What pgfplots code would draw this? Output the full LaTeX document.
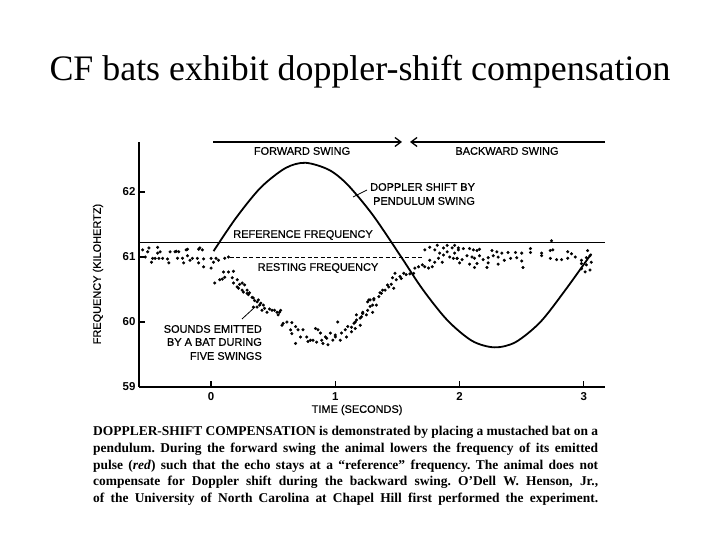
\documentclass[border=0pt]{standalone}
\usepackage{pgfplots}
\pgfplotsset{compat=1.18}
\usepackage{fontspec}
\setmainfont{Liberation Serif}
\setsansfont{Liberation Sans}
\newfontfamily\labfont[FakeBold=0.6]{Liberation Sans}
\usetikzlibrary{arrows.meta}

\newcommand{\lab}{\labfont\fontsize{11}{13}\selectfont}

\begin{document}
\frenchspacing
\begin{tikzpicture}
\useasboundingbox (0,0) rectangle (720bp,540bp);

% title
\node[anchor=base, inner sep=0] at (360bp,459bp)
  {\fontsize{36}{40}\selectfont CF bats exhibit doppler-shift compensation};

\begin{axis}[
  at={(139bp,153bp)}, anchor=south west,
  scale only axis, width=466bp, height=245bp,
  xmin=-0.58, xmax=3.17, ymin=59, ymax=62.77,
  axis lines=left, axis line style={-, line width=1.4bp},
  xtick={0,1,2,3}, ytick={59,60,61,62},
  tick align=inside, major tick length=6bp,
  tick style={line width=1.2bp, black},
  /pgf/number format/assume math mode=true,
  tick label style={font=\sffamily\bfseries\fontsize{11.5}{13}\selectfont},
  xticklabel style={yshift=-2bp},
  xlabel={TIME (SECONDS)},
  xlabel style={at={(axis description cs:0.468,-0.094)}, anchor=center, font=\lab},
  ylabel={FREQUENCY (KILOHERTZ)},
  ylabel style={at={(axis description cs:-0.088,0.461)}, anchor=center, font=\lab},
  clip=false,
]
% reference frequency
\addplot[black, line width=0.9bp] coordinates {(-0.58,61.22) (3.17,61.22)};
% resting frequency
\addplot[black, line width=0.7bp, dash pattern=on 4bp off 2.5bp] coordinates {(0.15,61.0) (1.71,61.0)};
% doppler shift by pendulum swing
\addplot[black, line width=1.8bp, smooth] coordinates {
  (0.02,61.09) (0.2,61.60) (0.4,62.07) (0.6,62.37) (0.76,62.45)
  (0.95,62.34) (1.1,62.11) (1.3,61.65) (1.52,61.03) (1.7,60.51)
  (1.9,60.03) (2.1,59.71) (2.28,59.61) (2.45,59.69) (2.65,60.00)
  (2.85,60.49) (3.06,61.05)
};
% sounds emitted by the bat
\addplot[only marks, mark=*, mark size=1.35bp, black] coordinates {
  (-0.55,61.11) (-0.53,61.00) (-0.51,61.08) (-0.50,61.14) (-0.48,60.92)
  (-0.47,60.98) (-0.45,60.98) (-0.43,61.15) (-0.43,61.06) (-0.42,60.98)
  (-0.41,61.08) (-0.39,60.98) (-0.35,60.97) (-0.34,60.91) (-0.33,61.08)
  (-0.29,61.08) (-0.28,61.09) (-0.27,60.98) (-0.26,61.08) (-0.23,60.98)
  (-0.22,60.91) (-0.20,61.11) (-0.19,61.12) (-0.19,61.02) (-0.17,60.95)
  (-0.15,60.98) (-0.11,60.98) (-0.10,61.12) (-0.10,60.91) (-0.09,61.14)
  (-0.07,61.11) (-0.06,60.97) (-0.06,60.85) (0.00,60.98) (0.00,60.83)
  (0.02,60.92) (0.04,60.98) (0.06,60.95) (0.11,60.98) (0.14,61.00)
  (0.03,60.60) (0.07,60.65) (0.09,60.66) (0.10,60.77) (0.11,60.69)
  (0.14,60.77) (0.17,60.68) (0.18,60.78) (0.18,60.60) (0.21,60.65)
  (0.21,60.54) (0.23,60.58) (0.22,60.52) (0.25,60.60) (0.25,60.49)
  (0.26,60.46) (0.27,60.57) (0.29,60.49) (0.29,60.44) (0.30,60.42)
  (0.31,60.45) (0.33,60.38) (0.34,60.37) (0.34,60.23) (0.35,60.33)
  (0.37,60.31) (0.37,60.23) (0.38,60.34) (0.39,60.26) (0.40,60.29)
  (0.41,60.18) (0.42,60.26) (0.43,60.21) (0.45,60.15) (0.47,60.20)
  (0.49,60.18) (0.51,60.18) (0.53,60.15) (0.54,60.11) (0.55,60.15)
  (0.56,60.18) (0.58,59.98) (0.61,60.00) (0.65,59.99) (0.68,59.93)
  (0.65,59.82) (0.70,59.88) (0.72,59.77) (0.68,59.67) (0.74,59.88)
  (0.77,59.77) (0.78,59.70) (0.82,59.72) (0.84,59.90) (0.86,59.88)
  (0.88,59.83) (0.89,59.72) (0.92,59.77) (0.90,59.67) (0.94,59.65)
  (0.96,59.83) (0.98,59.72) (1.00,59.80) (1.02,60.00) (1.04,59.72)
  (1.05,59.83) (1.08,59.88) (1.09,59.77) (1.10,59.93) (1.13,59.85)
  (1.15,59.98) (1.16,59.90) (1.17,60.03) (1.20,59.95) (1.21,60.08)
  (1.22,60.13) (1.25,60.11) (1.28,60.24) (1.27,60.34) (1.31,60.34)
  (1.33,60.26) (1.35,60.39) (0.57,59.95) (0.64,59.88) (0.80,59.72)
  (0.85,59.69) (0.93,59.75) (1.00,59.77)
  (1.13,59.92) (1.16,60.00) (1.17,60.11) (1.20,60.06) (1.22,60.15)
  (1.26,60.18) (1.26,60.31) (1.30,60.26) (1.30,60.15)
  (1.28,60.34) (1.31,60.36) (1.37,60.44) (1.40,60.49) (1.43,60.54)
  (1.45,60.58) (1.47,60.52) (1.49,60.65) (1.52,60.70) (1.55,60.75)
  (1.53,60.67) (1.57,60.73) (1.60,60.74) (1.63,60.75) (1.36,60.45)
  (1.38,60.49) (1.42,60.57) (1.46,60.68) (1.48,60.75)
  (1.64,60.83) (1.67,60.85) (1.70,60.88) (1.72,60.85) (1.75,60.83)
  (1.78,60.85) (1.76,60.95) (1.80,60.92) (1.83,60.98) (1.86,60.92)
  (1.84,61.06) (1.87,61.03) (1.90,61.08) (1.92,61.00) (1.94,61.14)
  (1.96,61.06) (1.95,60.98) (1.98,60.98) (1.72,61.11) (1.76,61.15)
  (1.80,61.11) (1.82,61.18) (1.87,61.14) (1.90,61.18) (1.96,61.18)
  (1.99,61.14)
  (1.99,61.11) (2.03,61.13) (2.08,61.13) (2.11,61.11) (2.14,61.10)
  (2.16,61.12) (2.26,61.10) (2.30,61.08) (2.34,61.06) (2.39,61.07)
  (2.45,61.07) (2.50,61.06) (2.57,61.13) (2.57,61.07) (2.66,61.06)
  (2.73,61.10) (2.75,61.11) (2.87,61.08) (2.90,61.05) (3.03,61.10)
  (1.98,60.98) (2.02,60.96) (2.06,61.02) (2.10,61.00) (2.12,60.98)
  (2.16,61.02) (2.19,60.96) (2.23,60.99) (2.27,61.02) (2.31,61.00)
  (2.36,60.95) (2.41,60.98) (2.46,60.99) (2.50,60.94) (2.66,61.02)
  (2.73,60.98) (2.78,60.96) (2.82,60.96) (2.87,60.98) (2.93,61.00)
  (2.98,60.95) (3.02,60.99) (3.05,61.02)
  (2.00,60.91) (2.08,60.89) (2.14,60.90) (2.23,60.91) (2.31,60.89)
  (2.98,60.90) (3.02,60.88) (3.06,60.92)
  (2.12,60.84) (2.22,60.84) (2.51,60.84) (2.98,60.82) (3.01,60.77)
  (3.05,60.80) (2.74,61.25)
};
\end{axis}

% swing arrows
\draw[line width=1.3bp, -{Straight Barb[length=6bp,width=9bp]}] (213bp,398bp) -- (402bp,398bp);
\draw[line width=1.3bp, -{Straight Barb[length=6bp,width=9bp]}] (605bp,398bp) -- (410bp,398bp);
\node[font=\lab, inner sep=0] at (302bp,389bp) {FORWARD SWING};
\node[font=\lab, inner sep=0] at (507bp,389bp) {BACKWARD SWING};

% annotations
\node[font=\lab, inner sep=0, anchor=west] at (370bp,353bp) {DOPPLER SHIFT BY};
\node[font=\lab, inner sep=0, anchor=west] at (373bp,339bp) {PENDULUM SWING};
\draw[line width=0.8bp] (353bp,343bp) -- (367bp,350bp);
\node[font=\lab, inner sep=0] at (303bp,305bp) {REFERENCE FREQUENCY};
\node[font=\lab, inner sep=0] at (318bp,272bp) {RESTING FREQUENCY};
\node[font=\lab, inner sep=0, anchor=east] at (262bp,211bp) {SOUNDS EMITTED};
\node[font=\lab, inner sep=0, anchor=east] at (262bp,198bp) {BY A BAT DURING};
\node[font=\lab, inner sep=0, anchor=east] at (262bp,184bp) {FIVE SWINGS};
\draw[line width=0.8bp] (242bp,221bp) -- (255bp,233bp);

% caption
\begin{scope}[every node/.style={anchor=base west, inner sep=0, font=\bfseries\fontsize{13.5}{16}\selectfont}]
\node at (93bp,104bp) {\makebox[505bp][s]{DOPPLER-SHIFT COMPENSATION is demonstrated by placing a mustached bat on a}};
\node at (93bp,87.3bp) {\makebox[505bp][s]{pendulum. During the forward swing the animal lowers the frequency of its emitted}};
\node at (93bp,70.6bp) {\makebox[505bp][s]{pulse (\textit{red}) such that the echo stays at a “reference” frequency. The animal does not}};
\node at (93bp,54bp) {\makebox[505bp][s]{compensate for Doppler shift during the backward swing. O’Dell W. Henson, Jr.,}};
\node at (93bp,37.3bp) {\makebox[505bp][s]{of the University of North Carolina at Chapel Hill first performed the experiment.}};
\end{scope}
\end{tikzpicture}
\end{document}
